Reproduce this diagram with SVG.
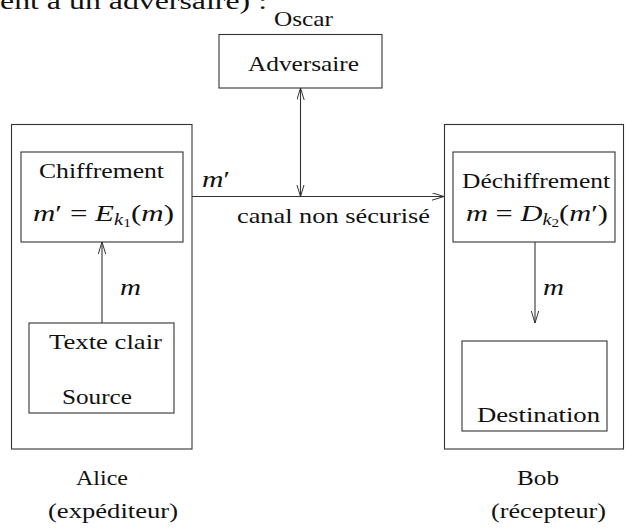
<svg xmlns="http://www.w3.org/2000/svg" width="626" height="528" viewBox="0 0 626 528">
<style>
text{font-family:"Liberation Serif","DejaVu Serif",serif;font-size:22px;fill:#111}
.i{font-style:italic}
.m{font-size:24px}
.box{fill:none;stroke:#333;stroke-width:1.1}
.ln{fill:none;stroke:#333;stroke-width:1.1}
</style>
<defs>
<marker id="ah" markerUnits="userSpaceOnUse" markerWidth="14" markerHeight="10" refX="12" refY="4" orient="auto-start-reverse">
<path d="M0,0.3 L12,4 L0,7.7" fill="none" stroke="#333" stroke-width="1"/>
</marker>
</defs>
<rect width="626" height="528" fill="#fff"/>
<text x="0" y="9" style="font-size:24px" textLength="267" lengthAdjust="spacingAndGlyphs">ent à un adversaire) :</text>

<g id="oscar">
<text x="274" y="26" textLength="59" lengthAdjust="spacingAndGlyphs">Oscar</text>
<rect class="box" x="219" y="34.5" width="163" height="53.5"/>
<text x="248" y="71" textLength="111" lengthAdjust="spacingAndGlyphs">Adversaire</text>
</g>

<g id="alice">
<rect class="box" x="11.5" y="124.5" width="180.5" height="324.5"/>
<text x="76" y="485" textLength="52" lengthAdjust="spacingAndGlyphs">Alice</text>
<text x="48" y="518" textLength="130" lengthAdjust="spacingAndGlyphs">(expéditeur)</text>
</g>
<g id="chiffrement">
<rect class="box" x="21" y="152" width="162" height="90"/>
<text x="39" y="178" textLength="125" lengthAdjust="spacingAndGlyphs">Chiffrement</text>
<text class="m" x="33" y="221" textLength="141" lengthAdjust="spacingAndGlyphs"><tspan class="i">m</tspan><tspan>′ = </tspan><tspan class="i">E</tspan><tspan class="i" style="font-size:16px" dy="4">k</tspan><tspan style="font-size:12px" dy="2">1</tspan><tspan dy="-6">(</tspan><tspan class="i">m</tspan><tspan>)</tspan></text>
</g>
<g id="source">
<rect class="box" x="29" y="323" width="145" height="90"/>
<text x="49" y="349" textLength="113" lengthAdjust="spacingAndGlyphs">Texte clair</text>
<text x="62" y="404" textLength="70" lengthAdjust="spacingAndGlyphs">Source</text>
</g>

<g id="bob">
<rect class="box" x="444.5" y="124.5" width="179" height="324.5"/>
<text x="517" y="485" textLength="42" lengthAdjust="spacingAndGlyphs">Bob</text>
<text x="491" y="518" textLength="115" lengthAdjust="spacingAndGlyphs">(récepteur)</text>
</g>
<g id="dechiffrement">
<rect class="box" x="453" y="152" width="162" height="90"/>
<text x="462" y="188" textLength="148" lengthAdjust="spacingAndGlyphs">Déchiffrement</text>
<text class="m" x="466" y="221" textLength="142" lengthAdjust="spacingAndGlyphs"><tspan class="i">m</tspan><tspan> = </tspan><tspan class="i">D</tspan><tspan class="i" style="font-size:16px" dy="4">k</tspan><tspan style="font-size:12px" dy="2">2</tspan><tspan dy="-6">(</tspan><tspan class="i">m</tspan><tspan>′)</tspan></text>
</g>
<g id="destination">
<rect class="box" x="462" y="341" width="145" height="90"/>
<text x="477" y="422" textLength="123" lengthAdjust="spacingAndGlyphs">Destination</text>
</g>

<g id="connectors">
<line class="ln" x1="102" y1="323" x2="102" y2="242" marker-end="url(#ah)"/>
<text class="i m" x="120" y="295" textLength="21" lengthAdjust="spacingAndGlyphs">m</text>
<line class="ln" x1="192" y1="196.5" x2="444" y2="196.5" marker-end="url(#ah)"/>
<text class="m" x="202" y="187" textLength="28" lengthAdjust="spacingAndGlyphs"><tspan class="i">m</tspan>′</text>
<text x="237" y="223" textLength="193" lengthAdjust="spacingAndGlyphs">canal non sécurisé</text>
<line class="ln" x1="300.5" y1="88" x2="300.5" y2="196.5" marker-start="url(#ah)" marker-end="url(#ah)"/>
<line class="ln" x1="535" y1="242" x2="535" y2="323" marker-end="url(#ah)"/>
<text class="i m" x="543" y="295" textLength="21" lengthAdjust="spacingAndGlyphs">m</text>
</g>
</svg>
